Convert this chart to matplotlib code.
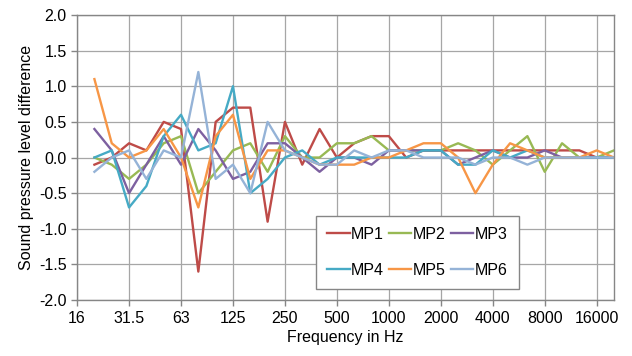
import matplotlib as mpl
mpl.use('Agg')
import matplotlib.pyplot as plt
from matplotlib.ticker import FormatStrFormatter

plt.rcParams['font.family'] = ['Liberation Sans', 'DejaVu Sans']

# 1/3 octave bands, data starts at 20 Hz
bands = ['16', '20', '25', '31.5', '40', '50', '63', '80', '100', '125', '160',
         '200', '250', '315', '400', '500', '630', '800', '1000', '1250', '1600',
         '2000', '2500', '3150', '4000', '5000', '6300', '8000', '10000', '12500',
         '16000', '20000']
tick_labels = ['16', '31.5', '63', '125', '250', '500', '1000', '2000', '4000',
               '8000', '16000']

mp1 = [-0.1, 0.0, 0.2, 0.1, 0.5, 0.4, -1.6, 0.5, 0.7, 0.7, -0.9, 0.5, -0.1, 0.4,
       0.0, 0.2, 0.3, 0.3, 0.0, 0.1, 0.1, 0.1, 0.1, 0.1, 0.1, 0.1, 0.1, 0.1, 0.1,
       0.0, 0.0]
mp2 = [0.0, -0.1, -0.3, -0.1, 0.2, 0.3, -0.5, -0.2, 0.1, 0.2, -0.2, 0.3, 0.0, 0.0,
       0.2, 0.2, 0.3, 0.1, 0.1, 0.1, 0.1, 0.2, 0.1, -0.1, 0.1, 0.3, -0.2, 0.2, 0.0,
       0.0, 0.1]
mp3 = [0.4, 0.1, -0.5, -0.1, 0.3, -0.1, 0.4, 0.1, -0.3, -0.2, 0.2, 0.2, 0.0, -0.2,
       0.0, 0.0, -0.1, 0.1, 0.1, 0.1, 0.1, -0.1, 0.0, 0.1, 0.0, 0.0, 0.1, 0.0, 0.0,
       0.0, 0.0]
mp4 = [0.0, 0.1, -0.7, -0.4, 0.3, 0.6, 0.1, 0.2, 1.0, -0.5, -0.3, 0.0, 0.1, -0.1,
       0.0, 0.0, 0.0, 0.0, 0.0, 0.1, 0.1, -0.1, -0.1, 0.1, 0.0, 0.1, 0.0, 0.0, 0.0,
       0.0, 0.0]
mp5 = [1.1, 0.2, 0.0, 0.1, 0.4, 0.0, -0.7, 0.3, 0.6, -0.3, 0.1, 0.1, 0.0, -0.1,
       -0.1, -0.1, 0.0, 0.0, 0.1, 0.2, 0.2, 0.0, -0.5, -0.1, 0.2, 0.1, 0.0, 0.0,
       0.0, 0.1, 0.0]
mp6 = [-0.2, 0.0, 0.1, -0.3, 0.1, 0.0, 1.2, -0.3, -0.1, -0.5, 0.5, 0.1, 0.0, -0.1,
       -0.1, 0.1, 0.0, 0.1, 0.1, 0.0, 0.0, 0.0, -0.1, 0.0, 0.0, -0.1, 0.0, 0.0, 0.0,
       0.0, 0.0]

series = [('MP1', mp1, '#BE4B48'), ('MP2', mp2, '#98B954'),
          ('MP3', mp3, '#7D60A0'), ('MP4', mp4, '#46AAC5'),
          ('MP5', mp5, '#F79646'), ('MP6', mp6, '#95B3D7')]

fig, ax = plt.subplots(figsize=(6.32, 3.56), dpi=100)
fig.subplots_adjust(left=0.122, right=0.9715, top=0.958, bottom=0.157)

x = list(range(1, len(bands)))
lines = []
for name, vals, col in series:
    ln, = ax.plot(x, vals, color=col, lw=1.7, label=name)
    lines.append(ln)

ax.set_xlim(0, len(bands) - 1)
ax.set_ylim(-2.0, 2.0)
ax.set_xticks([bands.index(t) for t in tick_labels])
ax.set_xticklabels(tick_labels)
ax.set_yticks([-2.0, -1.5, -1.0, -0.5, 0.0, 0.5, 1.0, 1.5, 2.0])
ax.yaxis.set_major_formatter(FormatStrFormatter('%.1f'))
ax.tick_params(labelsize=11.5, color='#868686', length=4, width=1)

ax.grid(True, color='#a6a6a6', lw=0.9)
ax.set_axisbelow(True)
for s in ax.spines.values():
    s.set_color('#868686')
    s.set_linewidth(1)

ax.set_xlabel('Frequency in Hz', fontsize=11.5, labelpad=3)
ax.set_ylabel('Sound pressure level difference', fontsize=11.5, labelpad=4)

# legend filled row by row like the original
order = [0, 3, 1, 4, 2, 5]
leg = ax.legend([lines[i] for i in order], [series[i][0] for i in order],
                loc='lower left', bbox_to_anchor=(0.445, 0.04), ncol=3,
                fontsize=11.5, handlelength=1.4, handletextpad=0.1,
                columnspacing=0.3, labelspacing=1.3, borderpad=0.7,
                borderaxespad=0, fancybox=False, framealpha=1)
leg.get_frame().set_edgecolor('#868686')

fig.savefig('out.png', dpi=100)
